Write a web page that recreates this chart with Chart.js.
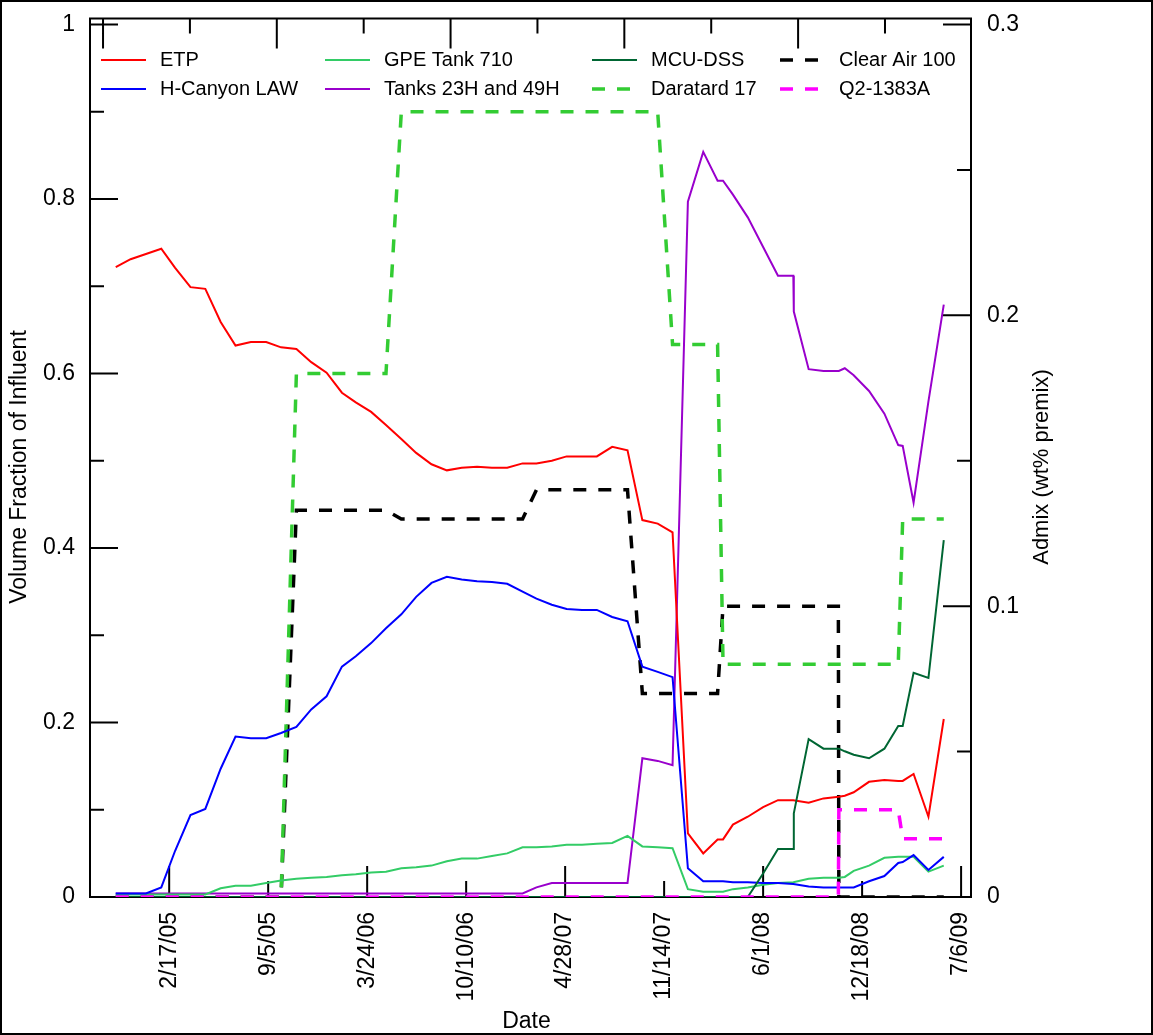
<!DOCTYPE html>
<html>
<head>
<meta charset="utf-8">
<script src="https://cdn.jsdelivr.net/npm/chart.js@4.4.1/dist/chart.umd.min.js"></script>
<style>
html,body{margin:0;padding:0;background:#fff;}
#wrap{width:1153px;height:1035px;position:relative;}
</style>
</head>
<body>
<div id="wrap"><canvas id="c" width="1153" height="1035"></canvas></div>
<script>
// ---------------- DATA ----------------
const sampleDates = [
 '2004-11-01','2004-12-01','2005-01-01','2005-02-01','2005-03-01','2005-04-01','2005-05-01','2005-06-01','2005-07-01','2005-08-01',
 '2005-09-01','2005-10-01','2005-11-01','2005-12-01','2006-01-01','2006-02-01','2006-03-01','2006-04-01','2006-05-01','2006-06-01',
 '2006-07-01','2006-08-01','2006-09-01','2006-10-01','2006-11-01','2006-12-01','2007-01-01','2007-02-01','2007-03-01','2007-04-01',
 '2007-05-01','2007-06-01','2007-07-01','2007-08-01','2007-09-01','2007-10-01','2007-11-01','2007-12-01','2008-01-01','2008-02-01',
 '2008-03-01','2008-03-12','2008-04-01','2008-05-01','2008-06-01','2008-07-01','2008-08-01','2008-08-02','2008-09-01','2008-10-01',
 '2008-11-01','2008-11-13','2008-12-01','2009-01-01','2009-02-01','2009-03-01','2009-03-10','2009-04-01','2009-05-01','2009-06-01'
];
const etp = [
 0.722,0.731,0.737,0.743,0.721,0.699,0.697,0.659,0.632,0.636,
 0.636,0.630,0.628,0.613,0.601,0.578,0.567,0.556,0.541,0.525,
 0.509,0.496,0.489,0.492,0.493,0.492,0.492,0.497,0.497,0.500,
 0.505,0.505,0.505,0.516,0.512,0.432,0.428,0.418,0.073,0.050,
 0.066,0.066,0.083,0.092,0.103,0.111,0.111,0.111,0.108,0.113,
 0.115,0.116,0.120,0.132,0.134,0.133,0.133,0.141,0.092,0.204
];
const hCanyonLaw = [
 0.004,0.004,0.004,0.011,0.053,0.094,0.101,0.147,0.184,0.182,
 0.182,0.188,0.195,0.215,0.230,0.264,0.276,0.291,0.308,0.324,
 0.344,0.360,0.367,0.364,0.362,0.361,0.359,0.350,0.342,0.335,
 0.330,0.329,0.329,0.321,0.316,0.264,0.258,0.252,0.033,0.018,
 0.018,0.018,0.017,0.017,0.016,0.016,0.015,0.015,0.012,0.011,
 0.011,0.011,0.011,0.018,0.024,0.039,0.040,0.048,0.031,0.046
];
const gpeTank710 = [
 0.003,0.003,0.003,0.003,0.003,0.003,0.003,0.010,0.013,0.013,
 0.016,0.019,0.021,0.022,0.023,0.025,0.026,0.028,0.029,0.033,
 0.034,0.036,0.041,0.044,0.044,0.047,0.050,0.057,0.057,0.058,
 0.060,0.060,0.061,0.062,0.070,0.058,0.057,0.056,0.009,0.006,
 0.006,0.006,0.009,0.011,0.014,0.016,0.017,0.017,0.021,0.022,
 0.022,0.023,0.030,0.036,0.045,0.046,0.046,0.046,0.029,0.036
];
const tanks23H49H = [
 0.004,0.004,0.004,0.004,0.004,0.004,0.004,0.004,0.004,0.004,
 0.004,0.004,0.004,0.004,0.004,0.004,0.004,0.004,0.004,0.004,
 0.004,0.004,0.004,0.004,0.004,0.004,0.004,0.004,0.011,0.016,
 0.016,0.016,0.016,0.016,0.016,0.159,0.156,0.151,0.797,0.854,
 0.821,0.821,0.805,0.779,0.745,0.712,0.712,0.671,0.605,0.603,
 0.603,0.606,0.598,0.580,0.554,0.518,0.517,0.452,0.568,0.679
];
const mcuDss = [
 0,0,0,0,0,0,0,0,0,0,
 0,0,0,0,0,0,0,0,0,0,
 0,0,0,0,0,0,0,0,0,0,
 0,0,0,0,0,0,0,0,0,0,
 0,0,0,0,0.027,0.055,0.055,0.096,0.181,0.170,
 0.170,0.167,0.163,0.159,0.170,0.196,0.196,0.257,0.251,0.409
];
// Admix (right axis, wt% premix)
const daratardDates = ['2004-11-01','2005-10-01','2005-11-01','2006-05-01','2006-06-01','2007-11-01','2007-12-01','2008-03-01','2008-03-12','2009-03-01','2009-03-10','2009-06-01'];
const daratard17    = [0,0,0.18,0.18,0.27,0.27,0.19,0.19,0.08,0.08,0.13,0.13];
const clearAirDates = ['2004-11-01','2005-10-01','2005-11-01','2006-05-01','2006-06-01','2007-02-01','2007-03-01','2007-09-01','2007-10-01','2008-03-01','2008-03-12','2008-10-31','2008-11-01','2009-06-01'];
const clearAir100   = [0,0,0.133,0.133,0.130,0.130,0.140,0.140,0.07,0.07,0.10,0.10,0,0];
const q2Dates = ['2004-11-01','2008-10-31','2008-11-01','2009-03-01','2009-03-10','2009-06-01'];
const q21383A = [0,0,0.03,0.03,0.02,0.02];

// Axis ticks
const xTickDates = ['2005-02-17','2005-09-05','2006-03-24','2006-10-10','2007-04-28','2007-11-14','2008-06-01','2008-12-18','2009-07-06'];
const yLabelTicks = [0,0.2,0.4,0.6,0.8,1];
const yMinorTicks = [0.1,0.3,0.5,0.7,0.9];
const y2LabelTicks = [0,0.1,0.2,0.3];
const y2MinorTicks = [0.05,0.15,0.25];
const topTicks = [0,1,2,3,4,5,6,7,8,9];

// ---------------- HELPERS ----------------
function serial(s){const p=s.split('-').map(Number);return Date.UTC(p[0],p[1]-1,p[2])/86400000+25569;}
function fmtDate(v){const d=new Date((v-25569)*86400000);return (d.getUTCMonth()+1)+'/'+d.getUTCDate()+'/'+String(d.getUTCFullYear()%100).padStart(2,'0');}
function pts(dates,vals){return dates.map((d,i)=>({x:serial(d),y:vals[i]}));}
function noPad(s){s.paddingTop=0;s.paddingBottom=0;s.paddingLeft=0;s.paddingRight=0;}

const FONT = '"Liberation Sans", Arial, sans-serif';
Chart.defaults.font.family = FONT;
Chart.defaults.color = '#000';

const DASH = [13,12];
const datasets = [
 {label:'ETP', data:pts(sampleDates,etp), borderColor:'#ff0000', borderWidth:2, order:3},
 {label:'H-Canyon LAW', data:pts(sampleDates,hCanyonLaw), borderColor:'#0000ff', borderWidth:2, order:3},
 {label:'GPE Tank 710', data:pts(sampleDates,gpeTank710), borderColor:'#33cc66', borderWidth:2, order:3},
 {label:'Tanks 23H and 49H', data:pts(sampleDates,tanks23H49H), borderColor:'#9900cc', borderWidth:2, order:3},
 {label:'MCU-DSS', data:pts(sampleDates,mcuDss), borderColor:'#006633', borderWidth:2, order:1},
 {label:'Daratard 17', data:pts(daratardDates,daratard17), borderColor:'#33cc33', borderWidth:3.5, borderDash:DASH, yAxisID:'y2', order:4},
 {label:'Clear Air 100', data:pts(clearAirDates,clearAir100), borderColor:'#000000', borderWidth:3.5, borderDash:DASH, yAxisID:'y2', order:4},
 {label:'Q2-1383A', data:pts(q2Dates,q21383A), borderColor:'#ff00ff', borderWidth:3.5, borderDash:DASH, yAxisID:'y2', order:0}
];
datasets.forEach(d=>{d.fill=false;d.pointRadius=0;d.tension=0;if(!d.yAxisID)d.yAxisID='y';d.xAxisID='x';});

const legendRows = [[0,2,4,6],[1,3,5,7]];
const legendCols = [101,325,592,780];
const legendRowY = [60,89];

const decor = {
 id:'decor',
 beforeDatasetsDraw(chart){
  const ctx=chart.ctx, a=chart.chartArea, sx=chart.scales.x, sy=chart.scales.y, sy2=chart.scales.y2, st=chart.scales.xTop;
  ctx.save();
  ctx.strokeStyle='#000'; ctx.setLineDash([]); ctx.lineWidth=2;
  ctx.beginPath();
  yLabelTicks.forEach(v=>{const y=sy.getPixelForValue(v);ctx.moveTo(a.left,y);ctx.lineTo(a.left+28,y);});
  yMinorTicks.forEach(v=>{const y=sy.getPixelForValue(v);ctx.moveTo(a.left,y);ctx.lineTo(a.left+14,y);});
  y2LabelTicks.forEach(v=>{const y=sy2.getPixelForValue(v);ctx.moveTo(a.right,y);ctx.lineTo(a.right-28,y);});
  y2MinorTicks.forEach(v=>{const y=sy2.getPixelForValue(v);ctx.moveTo(a.right,y);ctx.lineTo(a.right-14,y);});
  xTickDates.forEach((d,i)=>{const x=sx.getPixelForValue(serial(d));ctx.moveTo(x,a.bottom);ctx.lineTo(x,a.bottom-(i%2===0?31:16));});
  topTicks.forEach((v,i)=>{const x=st.getPixelForValue(v);ctx.moveTo(x,a.top);ctx.lineTo(x,a.top+(i%2===0?30:15));});
  ctx.stroke();
  ctx.lineWidth=2;
  ctx.strokeRect(a.left,a.top,a.right-a.left,a.bottom-a.top);
  ctx.restore();
 },
 afterDraw(chart){
  const ctx=chart.ctx, a=chart.chartArea;
  ctx.save();
  // legend
  ctx.font='20px '+FONT; ctx.textBaseline='middle'; ctx.textAlign='left'; ctx.fillStyle='#000';
  legendRows.forEach((row,r)=>row.forEach((di,c)=>{
    const ds=chart.data.datasets[di]; const x0=legendCols[c], y=legendRowY[r];
    ctx.strokeStyle=ds.borderColor; ctx.lineWidth=ds.borderWidth; ctx.setLineDash(ds.borderDash||[]);
    ctx.beginPath(); ctx.moveTo(x0,y); ctx.lineTo(x0+45,y); ctx.stroke();
    ctx.setLineDash([]); ctx.fillText(ds.label,x0+59,y);
  }));
  // axis titles
  ctx.textAlign='center'; ctx.textBaseline='middle';
  ctx.font='23px '+FONT;
  ctx.save(); ctx.translate(20,467); ctx.rotate(-Math.PI/2); ctx.fillText('Volume Fraction of Influent',0,0); ctx.restore();
  ctx.font='22px '+FONT;
  ctx.save(); ctx.translate(1042,467); ctx.rotate(-Math.PI/2); ctx.fillText('Admix (wt% premix)',0,0); ctx.restore();
  ctx.font='23px '+FONT; ctx.fillText('Date',(a.left+a.right)/2-4,1022);
  // outer frame
  ctx.strokeStyle='#000'; ctx.lineWidth=2; ctx.strokeRect(1,1,1151,1033);
  ctx.restore();
 }
};

new Chart(document.getElementById('c'),{
 type:'line',
 data:{datasets},
 options:{
  responsive:false, animation:false, devicePixelRatio:1,
  layout:{padding:{top:18.5,left:0,right:0,bottom:0}},
  plugins:{legend:{display:false},tooltip:{enabled:false}},
  elements:{point:{radius:0},line:{tension:0,borderCapStyle:'butt',borderJoinStyle:'miter'}},
  scales:{
   x:{type:'linear',position:'bottom',min:38240,max:40020,
      grid:{display:false,drawTicks:false},border:{display:false},
      afterBuildTicks:s=>{s.ticks=xTickDates.map(d=>({value:serial(d)}));},
      afterFit:s=>{s.height=138;noPad(s);},
      ticks:{autoSkip:false,minRotation:90,maxRotation:90,padding:15,font:{size:23},color:'#000',callback:v=>fmtDate(v)}},
   xTop:{type:'linear',position:'top',display:false,min:-0.15,max:9.99,afterFit:s=>{noPad(s);}},
   y:{type:'linear',position:'left',min:0,max:1.0069,
      grid:{display:false,drawTicks:false},border:{display:false},
      afterBuildTicks:s=>{s.ticks=yLabelTicks.map(v=>({value:v}));},
      afterFit:s=>{s.width=90;noPad(s);},
      ticks:{padding:15,font:{size:23},color:'#000',callback:v=>String(v)}},
   y2:{type:'linear',position:'right',min:0,max:0.30207,
      grid:{display:false,drawTicks:false},border:{display:false},
      afterBuildTicks:s=>{s.ticks=y2LabelTicks.map(v=>({value:v}));},
      afterFit:s=>{s.width=182;noPad(s);},
      ticks:{padding:16,font:{size:23},color:'#000',callback:v=>String(v)}}
  }
 },
 plugins:[decor]
});
</script>
</body>
</html>
